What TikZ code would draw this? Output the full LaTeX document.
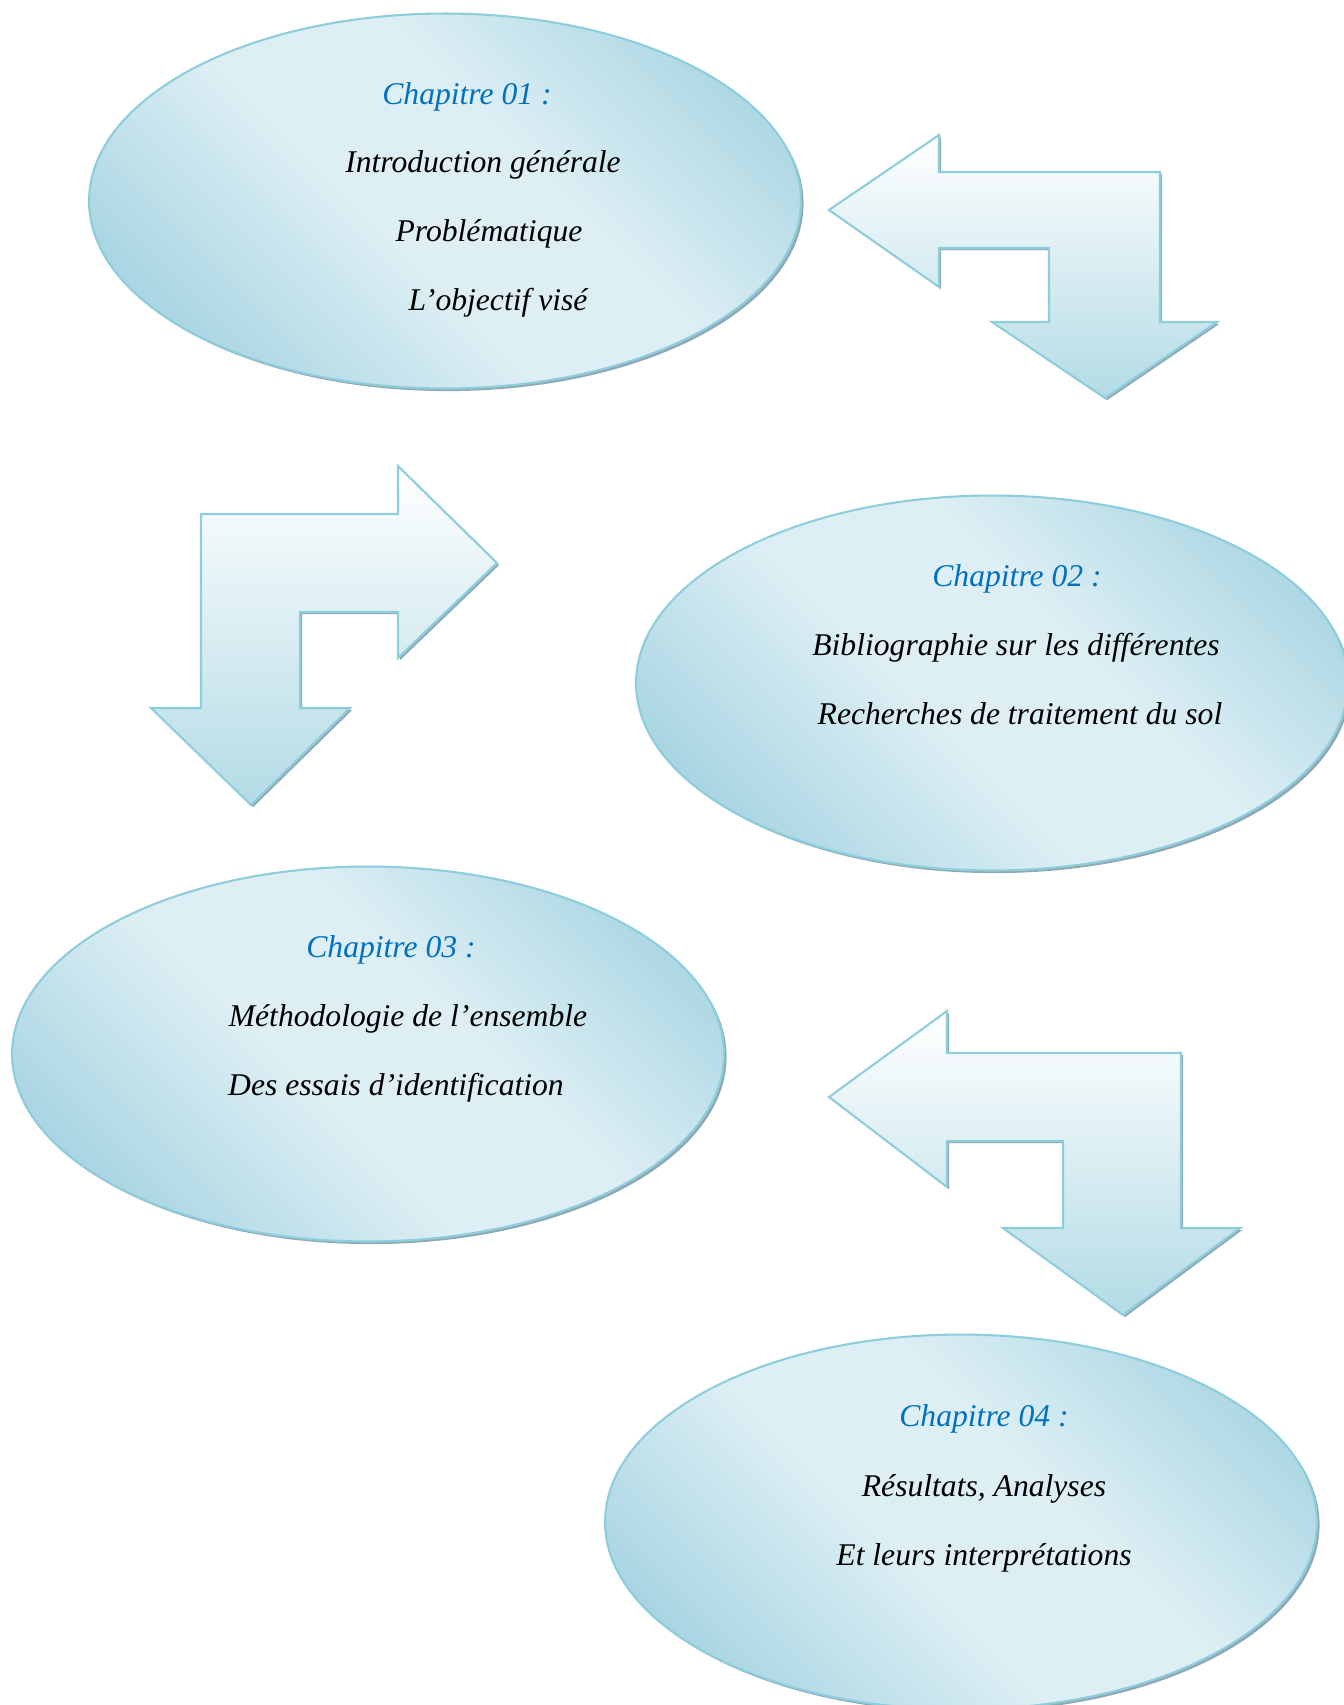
\documentclass[tikz,border=0pt]{standalone}
\usepackage{fontspec}
\setmainfont{Liberation Serif}
\usepackage{tikz}
\usetikzlibrary{shapes.geometric,shadows,positioning}
\definecolor{ovaldark}{HTML}{A4D3E1}
\definecolor{ovallight}{HTML}{DDEFF4}
\definecolor{rimblue}{HTML}{8ECDDC}
\definecolor{shadowgray}{HTML}{8FA9B3}
\definecolor{chapblue}{HTML}{0070C0}
\definecolor{arrowbot}{HTML}{B3DBE5}
\pgfdeclareverticalshading{ovalfade}{100bp}{color(0bp)=(ovaldark); color(22bp)=(ovaldark);
	color(44bp)=(ovallight); color(58bp)=(ovallight); color(80bp)=(ovaldark); color(100bp)=(ovaldark)}

\begin{document}
\begin{tikzpicture}[
		x=0.02cm, y=-0.02cm,
		Oval/.style={ellipse, draw=rimblue, line width=1.2pt,
			minimum width=14.24cm, minimum height=7.5cm,
			shading=ovalfade, shading angle=-45,
			drop shadow={shadow xshift=1.5pt, shadow yshift=-1.5pt, fill=shadowgray, opacity=1}},
		BentArrow/.style={draw=rimblue, line width=1.2pt, line join=miter,
			top color=white, bottom color=arrowbot,
			drop shadow={shadow xshift=1.2pt, shadow yshift=-1.2pt, fill=shadowgray, opacity=1}},
		ChapTitle/.style={anchor=base, text=chapblue, font=\fontsize{18}{22}\selectfont\itshape},
		ChapLine/.style={anchor=base, font=\fontsize{18}{22}\selectfont\itshape}
		]

		\clip (0,0) rectangle (1344,1705);

		% the four chapters
		\node[Oval] (chapA) at (445,201) {};
		\node[Oval] (chapB) at (992,683) {};
		\node[Oval] (chapC) at (368,1054) {};
		\node[Oval] (chapD) at (961,1522) {};

		\node[ChapTitle] (titleA) at (467,104) {Chapitre 01 :};
		\node[ChapLine] (lineA1) at (483,172) {Introduction générale};
		\node[ChapLine] (lineA2) at (489,241) {Problématique};
		\node[ChapLine] (lineA3) at (498,310) {L’objectif visé};

		\node[ChapTitle] (titleB) at (1017,586) {Chapitre 02 :};
		\node[ChapLine] (lineB1) at (1016,655) {Bibliographie sur les différentes};
		\node[ChapLine] (lineB2) at (1020,724) {Recherches de traitement du sol};

		\node[ChapTitle] (titleC) at (391,957) {Chapitre 03 :};
		\node[ChapLine] (lineC1) at (408,1026) {Méthodologie de l’ensemble};
		\node[ChapLine] (lineC2) at (396,1095) {Des essais d’identification};

		\node[ChapTitle] (titleD) at (984,1426) {Chapitre 04 :};
		\node[ChapLine] (lineD1) at (984,1496) {Résultats, Analyses};
		\node[ChapLine] (lineD2) at (984,1565) {Et leurs interprétations};

		% bent arrows between the chapters
		\path[BentArrow] (829,210) -- (939,135) -- (939,172) -- (1160,172) -- (1160,322)
			-- (1217,322) -- (1105,398) -- (992,322) -- (1049,322) -- (1049,248)
			-- (939,248) -- (939,287) -- cycle;

		\path[BentArrow] (251,805) -- (151,708) -- (201,708) -- (201,514) -- (398,514)
			-- (398,466) -- (497,563) -- (398,658) -- (398,612) -- (300,612)
			-- (300,708) -- (350,708) -- cycle;

		\path[BentArrow] (829,1097) -- (947,1011) -- (947,1053) -- (1181,1053) -- (1181,1228)
			-- (1240,1228) -- (1123,1315) -- (1003,1228) -- (1063,1228) -- (1063,1141)
			-- (947,1141) -- (947,1187) -- cycle;

\end{tikzpicture}
\end{document}
